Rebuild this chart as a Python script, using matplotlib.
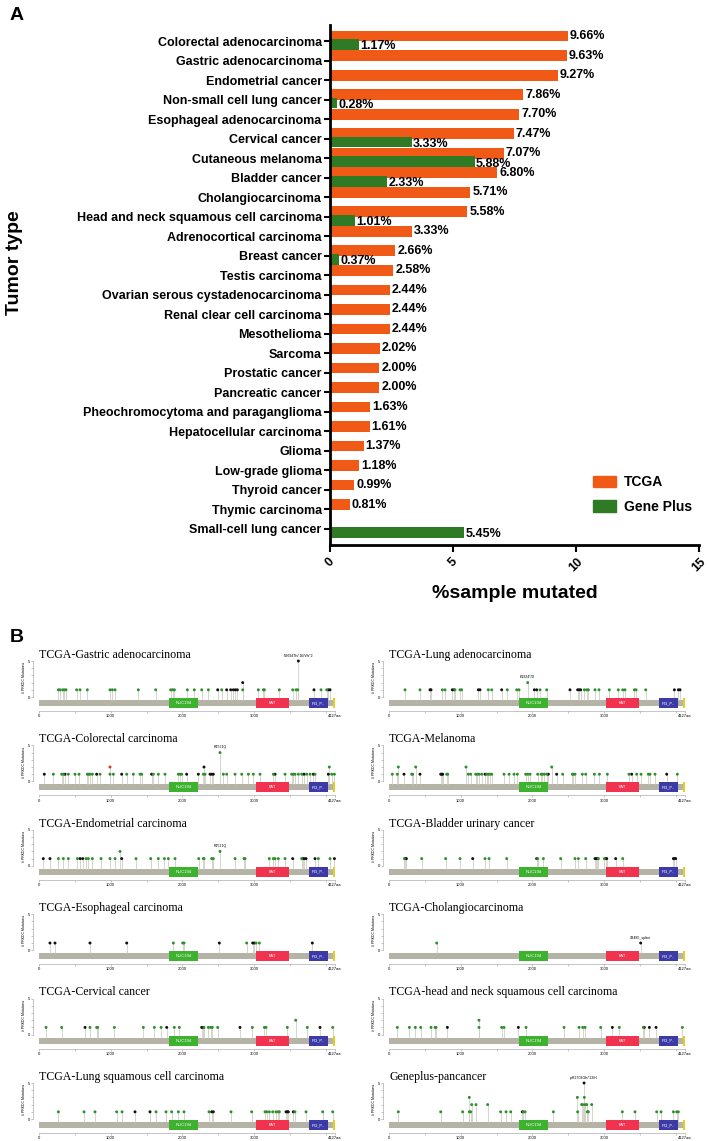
import matplotlib
matplotlib.use('Agg')
import matplotlib.pyplot as plt
import numpy as np
from matplotlib.patches import Rectangle, Patch

plt.rcParams['font.family'] = ['Liberation Sans', 'DejaVu Sans']

# ---------- panel A data ----------
tumor_types = [
    'Colorectal adenocarcinoma', 'Gastric adenocarcinoma', 'Endometrial cancer',
    'Non-small cell lung cancer', 'Esophageal adenocarcinoma', 'Cervical cancer',
    'Cutaneous melanoma', 'Bladder cancer', 'Cholangiocarcinoma',
    'Head and neck squamous cell carcinoma', 'Adrenocortical carcinoma', 'Breast cancer',
    'Testis carcinoma', 'Ovarian serous cystadenocarcinoma', 'Renal clear cell carcinoma',
    'Mesothelioma', 'Sarcoma', 'Prostatic cancer', 'Pancreatic cancer',
    'Pheochromocytoma and paraganglioma', 'Hepatocellular carcinoma', 'Glioma',
    'Low-grade glioma', 'Thyroid cancer', 'Thymic carcinoma', 'Small-cell lung cancer',
]
nan = np.nan
tcga = [9.66, 9.63, 9.27, 7.86, 7.70, 7.47, 7.07, 6.80, 5.71, 5.58, 3.33, 2.66, 2.58,
        2.44, 2.44, 2.44, 2.02, 2.00, 2.00, 1.63, 1.61, 1.37, 1.18, 0.99, 0.81, nan]
gene_plus = [1.17, nan, nan, 0.28, nan, 3.33, 5.88, 2.33, nan, 1.01, nan, 0.37, nan,
             nan, nan, nan, nan, nan, nan, nan, nan, nan, nan, nan, nan, 5.45]

# ---------- panel B data (PRKDC lollipops) ----------
protein_len = 4128
domain_names = ['NUC194', 'FAT', 'PI3_P..', '']
domain_start = [1814, 3026, 3765, 4100]
domain_end = [2217, 3486, 4030, 4128]
domain_colors = ['#3db22e', '#f2334f', '#3b3aa6', '#e3cf1f']

gastric_green = [270, 293, 330, 353, 377, 525, 572, 674, 990, 1023, 1060, 1385, 1627, 1836,
                 1864, 1888, 2069, 2166, 2269, 2362, 2548, 2841, 3059, 3129, 3143, 3352, 3538,
                 3584, 3608, 3933, 4012]
gastric_black = [2492, 2617, 2673, 2710, 2738, 2766, 3835, 4035, 4059]
gastric_high = [(2841, 2, 'k'), (3617, 5, 'k')]

lungad_green = [223, 432, 744, 781, 920, 990, 1013, 1385, 1432, 1650, 1781, 1813, 2106, 2199,
                2724, 2757, 2780, 2873, 2929, 3073, 3198, 3259, 3291, 3422, 3445, 3580]
lungad_black = [572, 586, 883, 907, 1246, 1269, 1571, 2027, 2059, 2524, 2631, 2650, 2673,
                3980, 4035, 4059]
lungad_high = [(1934, 2, 'g')]

colorectal_green = [200, 316, 339, 409, 502, 558, 674, 688, 711, 744, 851, 990, 1037, 1223,
                    1316, 1409, 1432, 1595, 1664, 1757, 1943, 1967, 1990, 2292, 2315, 2571,
                    2617, 2734, 2827, 2920, 2989, 3082, 3268, 3431, 3524, 3547, 3570, 3617,
                    3663, 3733, 3780, 3849, 4082, 4120]
colorectal_black = [74, 363, 804, 1153, 1571, 2059, 2222, 2385, 2408, 2431, 3292, 3696, 3826,
                    4035]
colorectal_high = [(990, 2, 'r'), (2301, 2, 'k'), (2524, 4, 'g'), (4049, 2, 'g')]

melanoma_green = [46, 116, 316, 330, 804, 818, 1106, 1139, 1209, 1232, 1255, 1292, 1362, 1385,
                  1409, 1432, 1604, 1674, 1743, 1790, 1906, 1934, 1967, 2073, 2120, 2139, 2166,
                  2199, 2422, 2557, 2571, 2594, 2696, 2743, 2864, 2934, 3045, 3347, 3454, 3515,
                  3617, 3640, 3710, 4021]
melanoma_black = [209, 432, 721, 735, 749, 1339, 2222, 2338, 3384, 3873]
melanoma_high = [(130, 2, 'g'), (372, 2, 'g'), (1074, 2, 'g'), (2269, 2, 'g')]

endometrial_green = [270, 339, 409, 535, 656, 688, 744, 865, 990, 1060, 1353, 1557, 1664, 1748,
                     1804, 1897, 2227, 2292, 2301, 2408, 2431, 2734, 2859, 2873, 3212, 3268,
                     3292, 3338, 3431, 3663, 3896, 4059]
endometrial_black = [60, 153, 572, 609, 1153, 3538, 3677, 3696, 3724, 3849, 4120]
endometrial_high = [(1130, 2, 'g'), (2524, 2, 'g')]

bladder_green = [214, 456, 790, 990, 1339, 1395, 1641, 2073, 2153, 2394, 2594, 2641, 2743,
                 2920, 3003, 3259]
bladder_black = [228, 242, 1167, 2059, 2873, 2887, 2906, 3022, 3036, 3161, 3966, 3980, 3998]
bladder_high = []

esophageal_green = [1874, 2004, 2022, 2896, 3027, 3073]
esophageal_black = [153, 223, 711, 1223, 2515, 2980, 3003, 3812]
esophageal_high = []

cholangio_green = [665]
cholangio_black = [3510]
cholangio_high = []

cervical_green = [98, 316, 711, 804, 818, 1051, 1455, 1609, 1702, 1887, 1957, 2301, 2362, 2394,
                  2417, 2492, 2975, 3143, 3166, 3463, 3742, 4096]
cervical_black = [642, 1781, 2269, 2292, 2803, 3919]
cervical_high = [(3580, 2, 'g')]

headneck_green = [116, 284, 367, 442, 586, 642, 656, 1255, 1571, 1604, 1911, 2441, 2650, 2701,
                  2734, 2952, 3212, 3547, 4091]
headneck_black = [814, 1804, 3115, 3561, 3631, 3724]
headneck_high = [(1255, 2, 'g')]

lungsq_green = [270, 628, 781, 1083, 1158, 1632, 1771, 1850, 1943, 2022, 2371, 2678, 2966, 3152,
                3175, 3212, 3259, 3305, 3338, 3352, 3570, 3724, 3956, 4096]
lungsq_black = [1339, 1548, 2408, 2431, 3445, 3463, 3477, 3547]
lungsq_high = []

geneplus_green = [130, 721, 1027, 1120, 1139, 1557, 1632, 1697, 1874, 1897, 2292, 2631, 2766,
                  2780, 3254, 3431, 3733, 3794, 3966, 4012, 4035]
geneplus_black = [1860]
geneplus_high = [(1120, 3, 'g'), (1153, 2, 'g'), (1213, 2, 'g'), (1376, 2, 'g'), (2627, 3, 'g'),
                 (2687, 2, 'g'), (2701, 2, 'g'), (2720, 5, 'k'), (2724, 3, 'g'), (2738, 2, 'g'),
                 (2757, 2, 'g'), (2827, 2, 'g')]

panel_titles = ['TCGA-Gastric adenocarcinoma', 'TCGA-Lung adenocarcinoma',
                'TCGA-Colorectal carcinoma', 'TCGA-Melanoma',
                'TCGA-Endometrial carcinoma', 'TCGA-Bladder urinary cancer',
                'TCGA-Esophageal carcinoma', 'TCGA-Cholangiocarcinoma',
                'TCGA-Cervical cancer', 'TCGA-head and neck squamous cell carcinoma',
                'TCGA-Lung squamous cell carcinoma', 'Geneplus-pancancer']
panel_green = [gastric_green, lungad_green, colorectal_green, melanoma_green, endometrial_green,
               bladder_green, esophageal_green, cholangio_green, cervical_green, headneck_green,
               lungsq_green, geneplus_green]
panel_black = [gastric_black, lungad_black, colorectal_black, melanoma_black, endometrial_black,
               bladder_black, esophageal_black, cholangio_black, cervical_black, headneck_black,
               lungsq_black, geneplus_black]
panel_high = [gastric_high, lungad_high, colorectal_high, melanoma_high, endometrial_high,
              bladder_high, esophageal_high, cholangio_high, cervical_high, headneck_high,
              lungsq_high, geneplus_high]
# (panel index, position, height, text)
notes = [(0, 3617, 5, 'N3694Tfs*16/Vfs*2'), (1, 1934, 2, 'E1924*/D'), (2, 2524, 4, 'R2521Q'),
         (4, 2524, 2, 'R2521Q'), (7, 3510, 1, 'X3485_splice'), (11, 2720, 5, 'p.R2701Gfs*13/H')]

orange = '#f05a16'
green = '#2f7a24'
head_colors = {'g': '#2f8f2f', 'k': '#111111', 'r': '#d43a1e'}

W, H = 709, 1141
fig = plt.figure(figsize=(W / 100, H / 100), dpi=100)

# ---------- panel A ----------
ax = fig.add_axes([330 / W, 1 - 545 / H, 369 / W, 520 / H])
y = np.arange(len(tumor_types))
ax.barh(y - 0.25, tcga, height=0.55, color=orange)
ax.barh(y + 0.18, gene_plus, height=0.55, color=green)
for i, v in enumerate(tcga):
    if not np.isnan(v):
        ax.text(v + 0.08, i - 0.25, f'{v:.2f}%', va='center', fontsize=9, fontweight='bold')
for i, v in enumerate(gene_plus):
    if not np.isnan(v):
        ax.text(v + 0.05, i + 0.28, f'{v:.2f}%', va='center', fontsize=9, fontweight='bold')

ax.set_ylim(len(tumor_types) - 0.18, -0.82)
ax.set_xlim(0, 15)
ax.set_yticks(y)
ax.set_yticklabels(tumor_types, fontsize=9, fontweight='bold')
ax.set_xticks([0, 5, 10, 15])
ax.set_xticklabels(['0', '5', '10', '15'], fontsize=9, fontweight='bold', rotation=45)
for s in ['top', 'right']:
    ax.spines[s].set_visible(False)
for s in ['left', 'bottom']:
    ax.spines[s].set_linewidth(2)
ax.tick_params(axis='y', length=4, width=1.5, pad=2)
ax.tick_params(axis='x', length=5, width=1.5, pad=3)

ax.legend(handles=[Patch(color=orange, label='TCGA'), Patch(color=green, label='Gene Plus')],
          loc='upper left', bbox_to_anchor=(0.68, 0.158), frameon=False,
          prop={'size': 10, 'weight': 'bold'}, handlelength=1.6, handleheight=0.9,
          handletextpad=0.6, labelspacing=0.75)

fig.text(10 / W, 1 - 15 / H, 'A', fontsize=14, fontweight='bold', va='center')
fig.text(15 / W, 1 - 263 / H, 'Tumor type', fontsize=14, fontweight='bold', rotation=90,
         ha='center', va='center')
fig.text(515 / W, 1 - 593 / H, '%sample mutated', fontsize=14, fontweight='bold',
         ha='center', va='center')

# ---------- panel B ----------
fig.text(10 / W, 1 - 637 / H, 'B', fontsize=14, fontweight='bold', va='center')
px_per_aa = 296 / protein_len
x_lo, x_hi = -80, 4200
bar_top, bar_bot = -0.42, -1.25
dom_top, dom_bot = -0.14, -1.53
for k, title in enumerate(panel_titles):
    r, c = k // 2, k % 2
    zero_px = 39 if c == 0 else 389
    top_px = 644 + 84.4 * r
    left_px = zero_px + x_lo * px_per_aa
    bx = fig.add_axes([left_px / W, 1 - (top_px + 67) / H,
                       (x_hi - x_lo) * px_per_aa / W, 67 / H])
    bx.set_xlim(x_lo, x_hi)
    bx.set_ylim(-1.94, 7.36)

    # protein backbone and domains
    bx.add_patch(Rectangle((0, bar_bot), protein_len, bar_top - bar_bot, color='#b4b3a5', lw=0))
    for name, s, e, col in zip(domain_names, domain_start, domain_end, domain_colors):
        bx.add_patch(Rectangle((s, dom_bot), e - s, dom_top - dom_bot, color=col, lw=0, zorder=2))
        if name:
            bx.text((s + e) / 2, (dom_top + dom_bot) / 2, name, fontsize=3, color='white',
                    ha='center', va='center', zorder=3)

    # lollipops
    pos = list(panel_green[k]) + list(panel_black[k]) + [p for p, h, cc in panel_high[k]]
    hts = [1] * len(panel_green[k]) + [1] * len(panel_black[k]) + [h for p, h, cc in panel_high[k]]
    cols = ['g'] * len(panel_green[k]) + ['k'] * len(panel_black[k]) + [cc for p, h, cc in panel_high[k]]
    order = np.argsort(hts)[::-1]
    pos = np.array(pos)[order]
    hts = np.array(hts)[order]
    cols = [head_colors[cols[i]] for i in order]
    bx.vlines(pos, bar_top, hts, colors='#cfcfc4', lw=0.6, zorder=1)
    bx.scatter(pos, hts, s=4.5, c=cols, zorder=4, linewidths=0)

    bx.text(0, 5.85, title, family=['Liberation Serif', 'DejaVu Serif'], fontsize=8.6,
            ha='left', va='center')

    for s in ['top', 'right']:
        bx.spines[s].set_visible(False)
    for s in ['left', 'bottom']:
        bx.spines[s].set_linewidth(0.4)
        bx.spines[s].set_color('#9a9a9a')
    bx.spines['left'].set_bounds(0, 5)
    bx.spines['bottom'].set_bounds(0, protein_len - 1)
    bx.set_yticks([0, 1, 2, 3, 4, 5])
    bx.set_yticklabels(['0', '', '', '', '', '5'])
    bx.set_xticks([0, 500, 1000, 1500, 2000, 2500, 3000, 3500, 4000, protein_len - 1])
    bx.set_xticklabels(['0', '', '1000', '', '2000', '', '3000', '', '', '4127aa'])
    bx.tick_params(labelsize=3, length=1.5, width=0.4, color='#9a9a9a', pad=0.8)
    bx.set_ylabel('# PRKDC Mutations', fontsize=2.5, labelpad=1.5)

for k, p, h, txt in notes:
    bx = fig.axes[1 + k]
    bx.text(p, h + 0.45, txt, fontsize=2.5, ha='center', va='bottom')

fig.savefig('out.png', dpi=100)
